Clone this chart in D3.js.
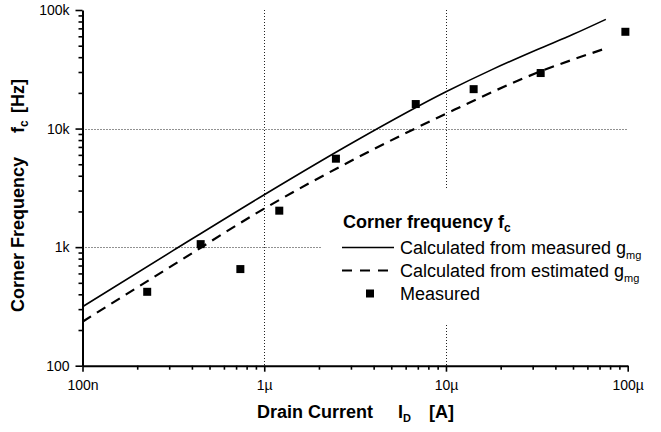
<!DOCTYPE html>
<html>
<head>
<meta charset="utf-8">
<script src="https://cdn.jsdelivr.net/npm/d3@7"></script>
<style>
    body { margin: 0; background: #fff; }
    svg { display: block; font-family: 'Liberation Sans', Arial, sans-serif; }
</style>
</head>
<body>
<svg id="chart" width="661" height="432"></svg>
<script>
// drain current [A] vs corner frequency [Hz]
const measuredGmCurrent = [1e-7, 3.162e-7, 1e-6, 3.162e-6, 1e-5, 1.778e-5, 3.162e-5, 5.012e-5, 7.58e-5];
const measuredGmFreq = [314, 938, 2767, 7816, 20420, 31260, 46240, 62370, 83370];

const estimatedGmCurrent = [1e-7, 3.162e-7, 1e-6, 3.162e-6, 1e-5, 3.162e-5, 7.58e-5];
const estimatedGmFreq = [235, 708, 2113, 5559, 13340, 29510, 47430];

const measCurrent = [2.27e-7, 4.47e-7, 7.39e-7, 1.21e-6, 2.48e-6, 6.82e-6, 1.42e-5, 3.32e-5, 9.71e-5];
const measFreq = [420, 1060, 653, 2030, 5570, 16100, 21500, 29400, 65500];

const xTickLabels = { 1e-7: '100n', 1e-6: '1µ', 1e-5: '10µ', 1e-4: '100µ' };
const yTickLabels = { 100: '100', 1e3: '1k', 1e4: '10k', 1e5: '100k' };

const svg = d3.select('#chart');

const x = d3.scaleLog().domain([1e-7, 1e-4]).range([82.5, 627.7]);
const y = d3.scaleLog().domain([100, 1e5]).range([365.7, 10]);

// all 1..9 ticks for each decade
function logTicks(lo, hi) {
    const t = [];
    for (let e = lo; e < hi; e++) {
        for (let m = 1; m < 10; m++) t.push(+(m + 'e' + e));
    }
    t.push(+('1e' + hi));
    return t;
}
const isMajor = (v) => Math.abs(Math.log10(v) - Math.round(Math.log10(v))) < 1e-9;

// grid
const grid = svg.append('g')
    .attr('stroke', '#222')
    .attr('stroke-width', 1)
    .attr('stroke-dasharray', '1,2');
grid.selectAll('line.v')
    .data([1e-6, 1e-5])
    .join('line')
    .attr('x1', (d) => Math.round(x(d)) + 0.5)
    .attr('x2', (d) => Math.round(x(d)) + 0.5)
    .attr('y1', y(1e5))
    .attr('y2', y(100));
grid.selectAll('line.h')
    .data([1e3, 1e4])
    .join('line')
    .attr('x1', x(1e-7))
    .attr('x2', x(1e-4))
    .attr('y1', (d) => Math.round(y(d)) + 0.5)
    .attr('y2', (d) => Math.round(y(d)) + 0.5);

// legend background hides grid behind it
svg.append('rect')
    .attr('x', 322).attr('y', 188)
    .attr('width', 339).attr('height', 135)
    .attr('fill', '#fff');

// axes
const xAxis = d3.axisBottom(x)
    .tickValues(logTicks(-7, -4))
    .tickSize(6)
    .tickSizeOuter(0)
    .tickPadding(8)
    .tickFormat((d) => xTickLabels[d] || '');
const gx = svg.append('g')
    .attr('transform', `translate(0,${y(100)})`)
    .call(xAxis);

const yAxis = d3.axisLeft(y)
    .tickValues(logTicks(2, 5))
    .tickSize(7)
    .tickSizeOuter(0)
    .tickPadding(6)
    .tickFormat((d) => yTickLabels[d] || '');
const gy = svg.append('g')
    .attr('transform', `translate(${x(1e-7)},0)`)
    .call(yAxis);

[gx, gy].forEach((g) => {
    g.select('.domain').attr('stroke', '#000').attr('stroke-width', 2);
    g.selectAll('.tick line').attr('stroke', '#000').attr('stroke-width', 1.6);
    g.selectAll('.tick text')
        .attr('fill', '#000')
        .style('font-size', '14px')
        .style('font-family', "'Liberation Sans', Arial, sans-serif");
});
gx.selectAll('.tick line').attr('y2', (d) => (isMajor(d) ? 6 : 4));
gy.selectAll('.tick line').attr('x2', (d) => (isMajor(d) ? -7 : -4));

// curves
const line = d3.line()
    .x((d) => x(d[0]))
    .y((d) => y(d[1]))
    .curve(d3.curveMonotoneX);

svg.append('path')
    .datum(d3.zip(measuredGmCurrent, measuredGmFreq))
    .attr('d', line)
    .attr('fill', 'none')
    .attr('stroke', '#000')
    .attr('stroke-width', 1.6);

svg.append('path')
    .datum(d3.zip(estimatedGmCurrent, estimatedGmFreq))
    .attr('d', line)
    .attr('fill', 'none')
    .attr('stroke', '#000')
    .attr('stroke-width', 2.2)
    .attr('stroke-dasharray', '10,7');

const sq = 8;
svg.selectAll('rect.meas')
    .data(d3.zip(measCurrent, measFreq))
    .join('rect')
    .attr('class', 'meas')
    .attr('x', (d) => x(d[0]) - sq / 2)
    .attr('y', (d) => y(d[1]) - sq / 2)
    .attr('width', sq)
    .attr('height', sq)
    .attr('fill', '#000');

// axis titles
const xt = svg.append('text')
    .attr('y', 418)
    .style('font-size', '18px')
    .style('font-weight', 'bold')
    .attr('fill', '#000');
xt.append('tspan').attr('x', 257).text('Drain Current');
xt.append('tspan').attr('x', 398).text('I');
xt.append('tspan').attr('dy', 4).style('font-size', '11px').text('D');
xt.append('tspan').attr('x', 429).attr('dy', -4).text('[A]');

const yt = svg.append('text')
    .attr('transform', 'translate(24,312) rotate(-90)')
    .style('font-size', '18px')
    .style('font-weight', 'bold')
    .attr('fill', '#000');
yt.append('tspan').attr('x', 0).text('Corner Frequency');
yt.append('tspan').attr('x', 179).text('f');
yt.append('tspan').attr('dy', 4).style('font-size', '12px').text('c');
yt.append('tspan').attr('x', 199).attr('dy', -4).text('[Hz]');

// legend
const lg = svg.append('g').attr('fill', '#000');
const lt = lg.append('text')
    .attr('x', 343).attr('y', 228)
    .style('font-size', '18px')
    .style('font-weight', 'bold');
lt.append('tspan').text('Corner frequency f');
lt.append('tspan').attr('dy', 4).style('font-size', '12px').text('c');

const legendRows = [
    { label: 'Calculated from measured g', type: 'solid' },
    { label: 'Calculated from estimated g', type: 'dashed' },
    { label: 'Measured', type: 'square' },
];
const rowY = [254, 277, 300];
legendRows.forEach((r, i) => {
    const by = rowY[i];
    const cy = by - 6.5;
    if (r.type === 'solid') {
        lg.append('line').attr('x1', 342).attr('x2', 394).attr('y1', cy).attr('y2', cy)
            .attr('stroke', '#000').attr('stroke-width', 1.6);
    } else if (r.type === 'dashed') {
        lg.append('line').attr('x1', 342).attr('x2', 394).attr('y1', cy).attr('y2', cy)
            .attr('stroke', '#000').attr('stroke-width', 2.2).attr('stroke-dasharray', '10,8');
    } else {
        lg.append('rect').attr('x', 366).attr('y', cy - 4).attr('width', 8).attr('height', 8);
    }
    const t = lg.append('text').attr('x', 400).attr('y', by).style('font-size', '18px');
    t.append('tspan').text(r.label);
    if (r.type !== 'square') {
        t.append('tspan').attr('dy', 5).style('font-size', '11px').text('mg');
    }
});
</script>
</body>
</html>
